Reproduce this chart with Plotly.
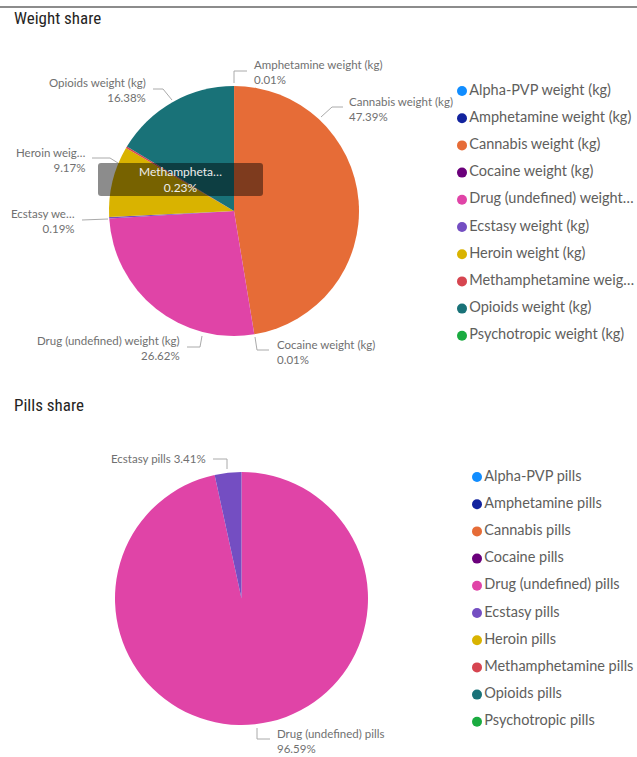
import plotly.graph_objects as go

W, H = 637, 757

# ---------------- data ----------------
weight_labels = ["Alpha-PVP weight (kg)", "Amphetamine weight (kg)", "Cannabis weight (kg)",
                 "Cocaine weight (kg)", "Drug (undefined) weight (kg)", "Ecstasy weight (kg)",
                 "Heroin weight (kg)", "Methamphetamine weight (kg)", "Opioids weight (kg)",
                 "Psychotropic weight (kg)"]
weight_legend_text = ["Alpha-PVP weight (kg)", "Amphetamine weight (kg)", "Cannabis weight (kg)",
                      "Cocaine weight (kg)", "Drug (undefined) weight…", "Ecstasy weight (kg)",
                      "Heroin weight (kg)", "Methamphetamine weig…", "Opioids weight (kg)",
                      "Psychotropic weight (kg)"]
weight_share = [0, 0.01, 47.39, 0.01, 26.62, 0.19, 9.17, 0.23, 16.38, 0]

pills_labels = ["Alpha-PVP pills", "Amphetamine pills", "Cannabis pills", "Cocaine pills",
                "Drug (undefined) pills", "Ecstasy pills", "Heroin pills",
                "Methamphetamine pills", "Opioids pills", "Psychotropic pills"]
pills_share = [0, 0, 0, 0, 96.59, 3.41, 0, 0, 0, 0]

colors = ["#118DFF", "#12239E", "#E66C37", "#6B007B", "#E044A7",
          "#744EC2", "#D9B300", "#D64550", "#197278", "#1AAB40"]

LABEL_FONT = "Lato, 'Open Sans', sans-serif"
TITLE_FONT = "'Roboto Condensed', 'DejaVu Sans Condensed', 'Liberation Sans Narrow', Roboto, sans-serif"
LABEL_COLOR = "#707070"
LEGEND_COLOR = "#605E5C"

fig = go.Figure()

def dom(x0, x1, y0, y1):
    return dict(x=[x0 / W, x1 / W], y=[1 - y1 / H, 1 - y0 / H])

# pies
fig.add_trace(go.Pie(labels=weight_labels, values=weight_share, sort=False,
                     direction="clockwise", rotation=0,
                     marker=dict(colors=colors, line=dict(width=0)),
                     textinfo="none", showlegend=False, hoverinfo="label+percent",
                     domain=dom(109, 359, 86, 336)))
fig.add_trace(go.Pie(labels=pills_labels, values=pills_share, sort=False,
                     direction="clockwise", rotation=0,
                     marker=dict(colors=colors, line=dict(width=0)),
                     textinfo="none", showlegend=False, hoverinfo="label+percent",
                     domain=dom(115, 368, 472, 725)))

# legends as scatter markers with text (pixel-space axes)
step = 27.2
fig.add_trace(go.Scatter(x=[462] * len(weight_labels),
                         y=[91 + i * step for i in range(len(weight_labels))],
                         mode="markers+text", text=weight_legend_text,
                         textposition="middle right",
                         textfont=dict(family=LABEL_FONT, size=14.5, color=LEGEND_COLOR),
                         marker=dict(size=10, color=colors), showlegend=False,
                         hoverinfo="skip", cliponaxis=False))
fig.add_trace(go.Scatter(x=[477] * len(pills_labels),
                         y=[477 + i * step for i in range(len(pills_labels))],
                         mode="markers+text", text=pills_labels,
                         textposition="middle right",
                         textfont=dict(family=LABEL_FONT, size=14.5, color=LEGEND_COLOR),
                         marker=dict(size=10, color=colors), showlegend=False,
                         hoverinfo="skip", cliponaxis=False))

annotations = []
shapes = []

def ann(x, y, text, xanchor, size=11.5, color=LABEL_COLOR, align=None, family=LABEL_FONT):
    annotations.append(dict(x=x, y=y, xref="x", yref="y", text=text, showarrow=False,
                            xanchor=xanchor, yanchor="middle",
                            align=align or xanchor,
                            font=dict(family=family, size=size, color=color)))

def leader(pts):
    d = "M " + " L ".join(f"{x},{y}" for x, y in pts)
    shapes.append(dict(type="path", xref="x", yref="y", path=d,
                       line=dict(color="#AAAAAA", width=1), layer="above"))

# titles
for ty, ttext in [(18, "Weight share"), (405, "Pills share")]:
    annotations.append(dict(x=12, y=ty, xref="x", yref="y", text=ttext, showarrow=False,
                            xanchor="left", yanchor="middle",
                            font=dict(family=TITLE_FONT, size=17, color="#252423")))
shapes.append(dict(type="line", xref="x", yref="y", x0=0, x1=W, y0=7, y1=7,
                   line=dict(color="#666666", width=1.5)))

def pct(v):
    return f"{v:.2f}%"

# weight pie labels
ann(252, 71.5, f"Amphetamine weight (kg)<br>{pct(weight_share[1])}", "left")
leader([(234, 83), (234, 71), (247, 71)])
ann(347, 108.5, f"Cannabis weight (kg)<br>{pct(weight_share[2])}", "left")
leader([(321, 117), (332, 107), (343, 107)])
ann(275, 351.5, f"Cocaine weight (kg)<br>{pct(weight_share[3])}", "left")
leader([(255, 337), (257, 350), (269, 350)])
ann(182, 348, f"Drug (undefined) weight (kg)<br>{pct(weight_share[4])}", "right")
leader([(202, 336), (200, 347), (187, 347)])
ann(77, 220.5, f"Ecstasy we…<br>{pct(weight_share[5])}", "right")
leader([(108, 219), (82, 220)])
ann(87, 159.5, f"Heroin weig…<br>{pct(weight_share[6])}", "right")
leader([(118, 163), (110, 158), (92, 158)])
ann(148, 89.5, f"Opioids weight (kg)<br>{pct(weight_share[8])}", "right")
leader([(172, 100), (163, 89), (153, 89)])

# methamphetamine tooltip-like box
x0, x1, y0, y1, r = 98, 263, 163, 196, 3
shapes.append(dict(type="path", xref="x", yref="y", layer="above",
                   path=(f"M {x0+r},{y0} L {x1-r},{y0} Q {x1},{y0} {x1},{y0+r} "
                         f"L {x1},{y1-r} Q {x1},{y1} {x1-r},{y1} L {x0+r},{y1} "
                         f"Q {x0},{y1} {x0},{y1-r} L {x0},{y0+r} Q {x0},{y0} {x0+r},{y0} Z"),
                   fillcolor="rgba(0,0,0,0.45)", line=dict(width=0)))
ann(180.5, 179.5, f"Methampheta…<br>{pct(weight_share[7])}", "center", size=12,
    color="#EEEEEE")

# pills pie labels
ann(208, 458, f"Ecstasy pills {pct(pills_share[5])}", "right")
leader([(227, 469), (227, 459), (213, 459)])
ann(275, 741, f"Drug (undefined) pills<br>{pct(pills_share[4])}", "left")
leader([(257, 728), (257, 739), (270, 739)])

fig.update_layout(
    width=W, height=H, margin=dict(l=0, r=0, t=0, b=0),
    paper_bgcolor="white", plot_bgcolor="white",
    xaxis=dict(range=[0, W], domain=[0, 1], visible=False, fixedrange=True),
    yaxis=dict(range=[H, 0], domain=[0, 1], visible=False, fixedrange=True),
    annotations=annotations, shapes=shapes, showlegend=False,
)

fig.write_html("out.html", config={"displayModeBar": False},
               post_script="document.body.style.margin='0';document.body.style.overflow='hidden';")
